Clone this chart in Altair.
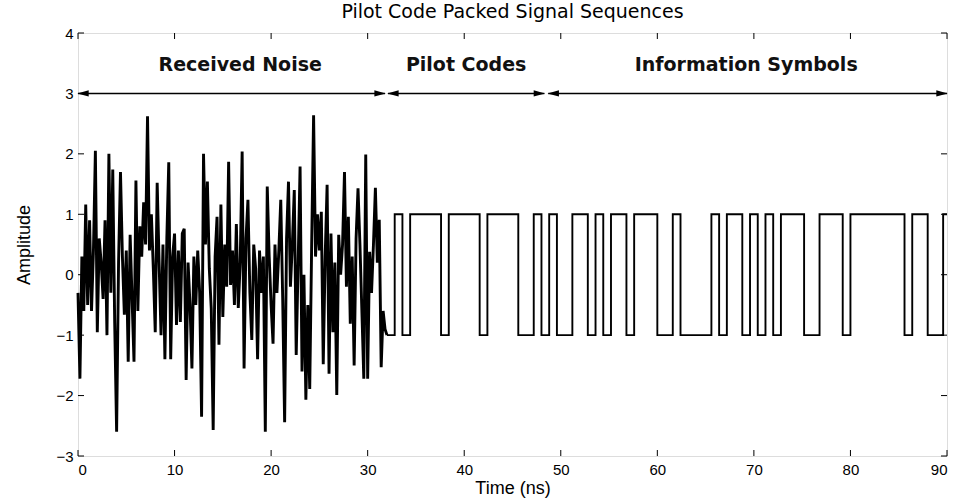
import altair as alt
import pandas as pd

# ---------------- data ----------------
noise_t0 = 0.0
noise_dt = 0.2
noise_values = [
    -0.3, -1.72, 0.3, -0.6, 1.16, -0.5, 0.9, -0.6, 0.4, 2.05,
    -0.95, 0.6, 0.2, -0.4, 0.9, -1.0, 2.0, -0.3, 1.74, -0.8,
    -2.6, 0.2, 1.7, 0.3, -0.66, 0.4, -1.44, 0.66, -0.4, -1.44,
    1.56, -0.6, 0.8, 0.3, 1.2, 0.5, 2.62, 0.4, 1.0, 0.1,
    -0.95, 1.52, 0.2, -1.0, 0.5, -1.4, 0.6, 1.86, -1.4, 0.3,
    0.68, -0.83, 0.4, -0.78, 0.68, 0.76, -1.74, 0.2, -0.5, -1.55,
    0.3, -0.5, 0.4, -0.3, -2.35, 2.0, 0.5, 1.54, 0.1, -0.56,
    -2.57, 0.3, 0.96, -1.16, 1.16, -0.7, 0.5, -0.2, 1.87, -0.17,
    0.4, -0.5, 0.84, -0.55, 0.2, 2.04, -1.55, 0.6, 1.24, -0.3,
    -1.08, 0.5, 0.1, -1.4, 0.4, -0.3, 0.3, -2.6, 1.46, 0.3,
    -0.5, -1.14, 0.5, -0.3, 0.4, 1.24, -0.4, -2.44, 0.6, 1.54,
    -0.2, 0.5, 1.4, -1.33, 0.2, 1.79, -1.6, 0.0, -2.07, -0.5,
    -1.89, 0.5, 2.64, 0.3, 1.0, 0.4, 1.04, -1.48, 0.3, 1.49,
    -1.64, 0.68, -0.95, 0.2, -1.99, 0.66, 0.0, 0.5, 1.7, -0.2,
    0.96, -0.81, 0.3, -1.5, 0.6, 1.43, 0.5, -0.6, -1.72, 1.99,
    -1.72, 0.38, -0.3, 0.5, 1.44, 0.2, 0.91, -1.53, -0.6, -0.9,
]

bit_t0 = 32.0
bit_period = 0.8
bit_levels = [
    -1, 1, -1, 1, 1, 1, 1, -1, 1, 1,
    1, 1, -1, 1, 1, 1, 1, -1, -1, 1,
    -1, 1, -1, -1, 1, 1, -1, 1, -1, 1,
    1, -1, 1, 1, 1, -1, -1, 1, -1, -1,
    -1, -1, 1, -1, 1, 1, -1, 1, -1, 1,
    -1, 1, 1, 1, -1, -1, 1, 1, 1, -1,
    1, 1, 1, 1, 1, 1, 1, -1, 1, 1,
    -1, -1, 1,
]
t_end = 90.0

x_ticks = [0, 10, 20, 30, 40, 50, 60, 70, 80, 90]
y_ticks = [-3, -2, -1, 0, 1, 2, 3, 4]

seg_labels = ["Received Noise", "Pilot Codes", "Information Symbols"]
seg_start = [0.0, 32.1, 48.7]
seg_end = [31.8, 48.3, 90.0]
seg_label_x = [16.8, 40.2, 69.2]
arrow_level = 3.0
label_level = 3.47

# ---------------- tables ----------------
noise_df = pd.DataFrame({
    "t": [noise_t0 + i * noise_dt for i in range(len(noise_values))] + [bit_t0],
    "v": noise_values + [bit_levels[0]],
})
bits_df = pd.DataFrame({
    "t": [bit_t0 + i * bit_period for i in range(len(bit_levels))] + [t_end],
    "v": bit_levels + [bit_levels[-1]],
})
seg_df = pd.DataFrame({
    "label": seg_labels, "x0": seg_start, "x1": seg_end,
    "xl": seg_label_x, "y": [arrow_level] * 3, "yl": [label_level] * 3,
})
xt_df = pd.DataFrame({"t": x_ticks})
yt_df = pd.DataFrame({"v": y_ticks})

FONT = "Liberation Sans, Arial, sans-serif"
WIDE = "DejaVu Sans, sans-serif"
W, H = 869, 423

xs = alt.Scale(domain=[0, 90], nice=False, zero=False)
ys = alt.Scale(domain=[-3, 4], nice=False, zero=False)

x_axis = alt.Axis(values=x_ticks, ticks=False, domain=False, grid=False, format="d",
                  labelFont=FONT, labelFontSize=15, labelPadding=6,
                  title="Time (ns)", titleFont=FONT, titleFontSize=18,
                  titleFontWeight="normal", titlePadding=2, labelColor="black",
                  titleColor="black")
y_axis = alt.Axis(values=y_ticks, ticks=False, domain=False, grid=False, format="d",
                  labelFont=FONT, labelFontSize=15, labelPadding=5,
                  title="Amplitude", titleFont=FONT, titleFontSize=18,
                  titleFontWeight="normal", titlePadding=22, labelColor="black",
                  titleColor="black")

noise = alt.Chart(noise_df).mark_line(color="black", strokeWidth=2.9).encode(
    x=alt.X("t:Q", scale=xs, axis=x_axis),
    y=alt.Y("v:Q", scale=ys, axis=y_axis),
)
bits = alt.Chart(bits_df).mark_line(color="black", strokeWidth=1.9,
                                    interpolate="step-after").encode(
    x=alt.X("t:Q", scale=xs), y=alt.Y("v:Q", scale=ys))

arrows = alt.Chart(seg_df).mark_rule(color="black", strokeWidth=1.4).encode(
    x=alt.X("x0:Q", scale=xs), x2="x1:Q", y=alt.Y("y:Q", scale=ys))
left_heads = alt.Chart(seg_df).mark_point(
    shape="M-1,0L1,-0.55L1,0.55Z", filled=True, color="black", opacity=1,
    size=130, xOffset=5).encode(x=alt.X("x0:Q", scale=xs), y=alt.Y("y:Q", scale=ys))
right_heads = alt.Chart(seg_df).mark_point(
    shape="M1,0L-1,-0.55L-1,0.55Z", filled=True, color="black", opacity=1,
    size=130, xOffset=-5).encode(x=alt.X("x1:Q", scale=xs), y=alt.Y("y:Q", scale=ys))
labels = alt.Chart(seg_df).mark_text(
    font=WIDE, fontSize=19, fontWeight="bold", color="#111111").encode(
    x=alt.X("xl:Q", scale=xs), y=alt.Y("yl:Q", scale=ys), text="label:N")

tick_len = 6
bottom_ticks = alt.Chart(xt_df).mark_rule(color="black").encode(
    x=alt.X("t:Q", scale=xs), y=alt.value(H), y2=alt.value(H - tick_len))
top_ticks = alt.Chart(xt_df).mark_rule(color="black").encode(
    x=alt.X("t:Q", scale=xs), y=alt.value(0), y2=alt.value(tick_len))
left_ticks = alt.Chart(yt_df).mark_rule(color="black").encode(
    y=alt.Y("v:Q", scale=ys), x=alt.value(0), x2=alt.value(tick_len))
right_ticks = alt.Chart(yt_df).mark_rule(color="black").encode(
    y=alt.Y("v:Q", scale=ys), x=alt.value(W), x2=alt.value(W - tick_len))

chart = alt.layer(
    bottom_ticks, top_ticks, left_ticks, right_ticks,
    noise, bits, arrows, left_heads, right_heads, labels,
).properties(
    width=W, height=H,
    title=alt.Title("Pilot Code Packed Signal Sequences", font=WIDE, fontSize=19,
                    fontWeight="normal", color="black", offset=4),
    autosize=alt.AutoSizeParams(type="none"),
    padding={"left": 78, "top": 33, "right": 18, "bottom": 48},
).configure_view(
    stroke="black", strokeWidth=1.3
).configure(background="white")

chart.save("out.html", embed_options={"renderer": "svg", "actions": False})
